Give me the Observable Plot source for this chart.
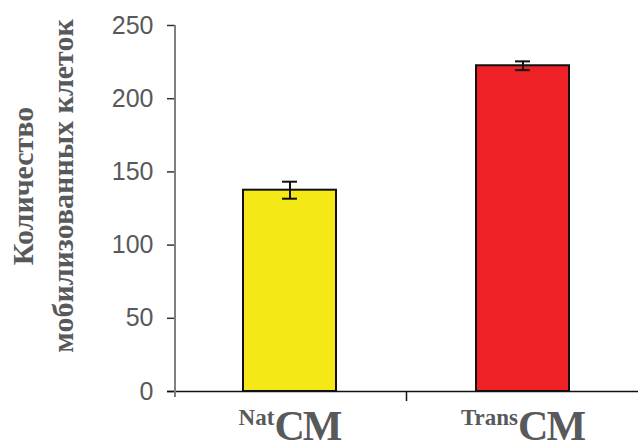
<!DOCTYPE html>
<html>
<head>
<meta charset="utf-8">
<script src="https://cdn.jsdelivr.net/npm/d3@7"></script>
<script src="https://cdn.jsdelivr.net/npm/@observablehq/plot@0.6"></script>
<style>
  body { margin: 0; background: #fff; }
  svg { display: block; }
</style>
</head>
<body>
<div id="chart"></div>
<script>
// Group names (drawn as superscript prefixes) and the shared label stem
const groups = ["Nat", "Trans"];
const groupStem = "CM";
// Mean number of mobilized cells and its error per group
const counts = [137.5, 222.5];
const errors = [5.8, 3.0];
const barColors = ["#f4e817", "#ee2226"];
const yTicks = [0, 50, 100, 150, 200, 250];
const yLabelLines = ["Количество", "мобилизованных клеток"];

const rows = groups.map((g, i) => ({group: g, count: counts[i], err: errors[i], color: barColors[i]}));

const textGray = "#58595b";
const ink = "#111";

const chart = Plot.plot({
  width: 638,
  height: 444,
  marginLeft: 175,
  marginRight: 0,
  marginTop: 25,
  marginBottom: 53,
  style: {fontFamily: "'Liberation Sans', Arial, sans-serif", background: "#fff"},
  x: {domain: groups, paddingInner: 0.6, paddingOuter: 0.29, axis: null},
  y: {domain: [0, 250], axis: null},
  marks: [
    Plot.barY(rows, {x: "group", y: "count", fill: "color", stroke: ink, strokeWidth: 2}),
    Plot.ruleX(rows, {x: "group", y1: d => d.count - d.err, y2: d => d.count + d.err, stroke: ink, strokeWidth: 2}),
    Plot.tickY(rows, {x: "group", y: d => d.count - d.err, stroke: ink, strokeWidth: 2, insetLeft: 39, insetRight: 39}),
    Plot.tickY(rows, {x: "group", y: d => d.count + d.err, stroke: ink, strokeWidth: 2, insetLeft: 39, insetRight: 39}),
    Plot.axisY({ticks: yTicks, label: null, tickSize: 8, tickPadding: 14, fontSize: 25, fill: textGray, stroke: "#333", strokeWidth: 1.5}),
    Plot.ruleY([0], {stroke: ink, strokeWidth: 1.5, insetLeft: -8})
  ]
});

document.getElementById("chart").appendChild(chart);

const xs = chart.scale("x");
const ys = chart.scale("y");
const svg = d3.select(chart);
const x0 = xs.range[0];
const x1 = xs.range[1];
const yBase = ys.apply(0);
const yTop = ys.apply(250);

// Vertical axis line, running a little below the baseline
svg.append("line")
  .attr("x1", x0).attr("x2", x0)
  .attr("y1", yTop).attr("y2", yBase + 6)
  .attr("stroke", "#7f7f7f").attr("stroke-width", 2);

// Divider tick between the two groups
svg.append("line")
  .attr("x1", (x0 + x1) / 2).attr("x2", (x0 + x1) / 2)
  .attr("y1", yBase).attr("y2", yBase + 10)
  .attr("stroke", ink).attr("stroke-width", 1.5);

// Group labels: superscript prefix followed by the stem
groups.forEach(g => {
  const t = svg.append("text")
    .attr("x", xs.apply(g) + xs.bandwidth / 2)
    .attr("y", yBase + 49)
    .attr("text-anchor", "middle")
    .attr("font-family", "'Liberation Serif', 'Times New Roman', serif")
    .attr("font-weight", "bold")
    .attr("fill", textGray)
    .attr("font-size", 42);
  t.append("tspan").attr("font-size", 23).attr("dy", -15).text(g);
  t.append("tspan").attr("dy", 15).attr("letter-spacing", -2).text(groupStem);
});

// Two-line rotated y-axis title
const yLabel = svg.append("text")
  .attr("transform", "translate(0,186) rotate(-90)")
  .attr("text-anchor", "middle")
  .attr("font-family", "'Liberation Serif', 'Times New Roman', serif")
  .attr("font-weight", "bold")
  .attr("font-size", 30)
  .attr("fill", textGray);
yLabelLines.forEach((line, i) => {
  yLabel.append("tspan").attr("x", 0).attr("y", 33 + i * 40).text(line);
});
</script>
</body>
</html>
